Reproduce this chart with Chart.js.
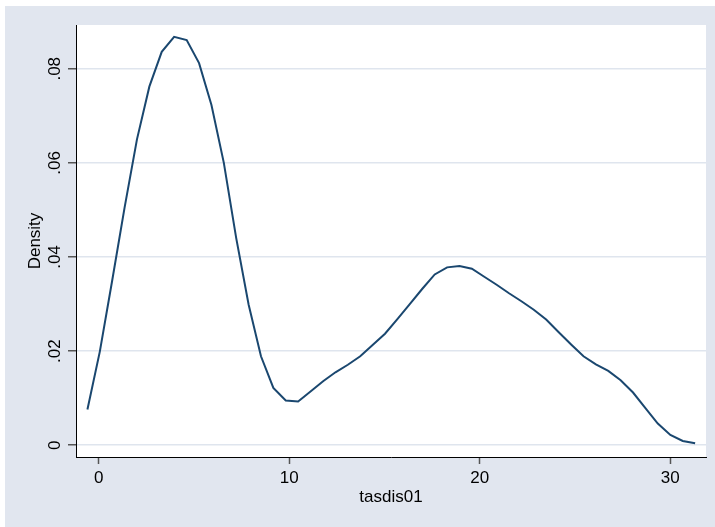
<!DOCTYPE html>
<html>
<head>
<meta charset="utf-8">
<script src="https://cdn.jsdelivr.net/npm/chart.js@4"></script>
<style>
  body { margin: 0; background: #fff; }
</style>
</head>
<body>
<canvas id="density-chart" width="715" height="527"></canvas>
<script>
// kernel density estimate, 50 grid points
const gridX = [
  -0.59, 0.06, 0.71, 1.36, 2.01, 2.66, 3.31, 3.96, 4.62, 5.27,
  5.92, 6.57, 7.22, 7.87, 8.52, 9.17, 9.82, 10.47, 11.12, 11.78,
  12.43, 13.08, 13.73, 14.38, 15.03, 15.68, 16.33, 16.98, 17.64, 18.29,
  18.94, 19.59, 20.24, 20.89, 21.54, 22.19, 22.84, 23.49, 24.15, 24.80,
  25.45, 26.10, 26.75, 27.40, 28.05, 28.70, 29.35, 30.01, 30.66, 31.31
]
const density = [
  0.0076, 0.0199, 0.0350, 0.0505, 0.0650, 0.0762, 0.0836, 0.0868, 0.0861, 0.0812,
  0.0723, 0.0600, 0.0440, 0.0299, 0.0189, 0.0122, 0.0095, 0.0093, 0.0114, 0.0136,
  0.0155, 0.0171, 0.0189, 0.0213, 0.0237, 0.0268, 0.0300, 0.0332, 0.0363, 0.0378,
  0.0381, 0.0375, 0.0358, 0.0341, 0.0323, 0.0306, 0.0288, 0.0267, 0.0240, 0.0214,
  0.0189, 0.0172, 0.0158, 0.0138, 0.0112, 0.0079, 0.0046, 0.0022, 0.0009, 0.0004
]
const xTicks = [0, 10, 20, 30]
const yTicks = [0, 0.02, 0.04, 0.06, 0.08]
const yTickLabels = ['0', '.02', '.04', '.06', '.08']
const xTitle = 'tasdis01'
const yTitle = 'Density'

const font = '17px "Liberation Sans", Arial, sans-serif'

// stata-ish graph region: bluish gray frame, white plot region
const backdrop = {
  id: 'backdrop',
  beforeDraw(chart) {
    const { ctx, chartArea: a } = chart
    ctx.save()
    ctx.fillStyle = '#fff'
    ctx.fillRect(0, 0, chart.width, chart.height)
    ctx.fillStyle = '#e1e6ef'
    ctx.fillRect(5, 6, chart.width - 5, chart.height - 6)
    ctx.fillStyle = '#fff'
    ctx.fillRect(a.left, a.top, a.right - a.left, a.bottom - a.top)
    ctx.restore()
  }
}

// tick labels (y ones rotated) and axis titles
const axisText = {
  id: 'axisText',
  afterDraw(chart) {
    const { ctx, chartArea: a, scales: { x, y } } = chart
    ctx.save()
    ctx.font = font
    ctx.fillStyle = '#000'
    ctx.textAlign = 'center'
    ctx.textBaseline = 'middle'
    yTicks.forEach((v, i) => {
      ctx.save()
      ctx.translate(55, y.getPixelForValue(v))
      ctx.rotate(-Math.PI / 2)
      ctx.fillText(yTickLabels[i], 0, 0)
      ctx.restore()
    })
    xTicks.forEach(v => ctx.fillText(String(v), x.getPixelForValue(v), 478))
    ctx.fillText(xTitle, (a.left + a.right) / 2, 497)
    ctx.translate(35, (a.top + a.bottom) / 2)
    ctx.rotate(-Math.PI / 2)
    ctx.fillText(yTitle, 0, 0)
    ctx.restore()
  }
}

new Chart(document.querySelector('#density-chart'), {
  type: 'line',
  data: {
    datasets: [{
      data: gridX.map((v, i) => ({ x: v, y: density[i] })),
      borderColor: '#1a476f',
      borderWidth: 2,
      pointRadius: 0,
      tension: 0,
      fill: false
    }]
  },
  options: {
    responsive: false,
    animation: false,
    layout: { padding: { top: 25, right: 9, left: 0, bottom: 0 } },
    plugins: { legend: { display: false }, tooltip: { enabled: false } },
    scales: {
      x: {
        type: 'linear',
        min: -1.19,
        max: 31.88,
        afterBuildTicks: s => { s.ticks = xTicks.map(value => ({ value })) },
        afterFit: s => { s.height = 70 },
        ticks: { display: false },
        grid: { drawOnChartArea: false, tickLength: 7, tickColor: '#555', tickWidth: 1.5 },
        border: { color: '#000', width: 1 }
      },
      y: {
        type: 'linear',
        min: -0.0025,
        max: 0.0893,
        afterBuildTicks: s => { s.ticks = yTicks.map(value => ({ value })) },
        afterFit: s => { s.width = 76 },
        ticks: { display: false },
        grid: { color: '#dfe5ee', lineWidth: 1.5, tickLength: 8, tickColor: '#555', tickWidth: 1.5 },
        border: { color: '#000', width: 1 }
      }
    }
  },
  plugins: [backdrop, axisText]
})
</script>
</body>
</html>
